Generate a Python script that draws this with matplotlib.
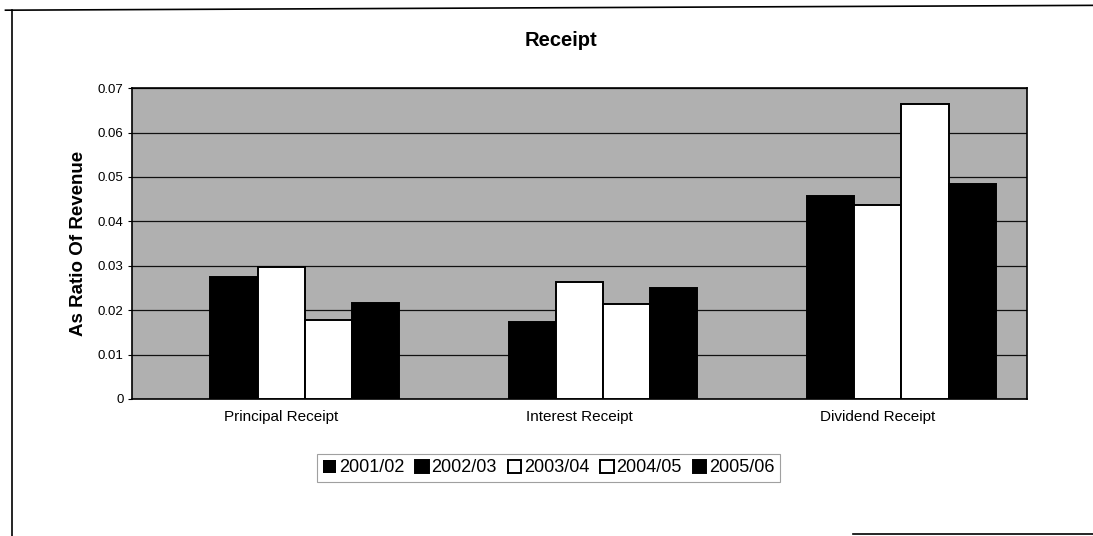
import matplotlib.pyplot as plt
import numpy as np
from matplotlib.lines import Line2D
from matplotlib.ticker import FuncFormatter

plt.rcParams['font.family'] = ['Liberation Sans', 'DejaVu Sans']

categories = ["Principal Receipt", "Interest Receipt", "Dividend Receipt"]
series = ["2001/02", "2002/03", "2003/04", "2004/05", "2005/06"]
v2001 = [0, 0, 0]
v2002 = [0.0275, 0.0173, 0.0456]
v2003 = [0.0297, 0.0264, 0.0437]
v2004 = [0.0178, 0.0214, 0.0664]
v2005 = [0.0216, 0.0249, 0.0483]
colors = ["black", "black", "white", "white", "black"]

values = [v2001, v2002, v2003, v2004, v2005]

fig = plt.figure(figsize=(10.93, 5.36), dpi=100)
ax = fig.add_axes([0.1208, 0.2556, 0.8188, 0.580])
ax.set_facecolor("#b0b0b0")

x = np.arange(len(categories))
w = 0.158
for i, (name, vals, c) in enumerate(zip(series, values, colors)):
    lw = [1.4 if v > 0 else 0 for v in vals]
    ax.bar(x + (i - 2) * w, vals, w, color=c, edgecolor="black",
           linewidth=lw, label=name, zorder=3)

ax.set_xlim(-0.5, 2.5)
ax.set_ylim(0, 0.07)
ax.set_yticks(np.arange(0, 0.071, 0.01))
ax.yaxis.set_major_formatter(FuncFormatter(lambda v, p: "0" if v == 0 else f"{v:.2f}"))
ax.grid(axis="y", color="#111111", linewidth=0.9, zorder=1)
ax.set_xticks(x)
ax.set_xticklabels(categories, fontsize=11)
ax.tick_params(axis="x", length=0, pad=8)
ax.tick_params(axis="y", labelsize=9.5, length=3, width=0.8, pad=3)
for s in ax.spines.values():
    s.set_linewidth(1.2)
    s.set_color("black")

ax.set_ylabel("As Ratio Of Revenue", fontsize=13.5, fontweight="bold", labelpad=8)
fig.text(0.513, 0.925, "Receipt", ha="center", va="center", fontsize=14.5, fontweight="bold")

leg = fig.legend(loc="center", bbox_to_anchor=(0.502, 0.127), ncol=5, fontsize=13,
                 frameon=True, fancybox=False, handlelength=0.75, handleheight=0.75,
                 handletextpad=0.15, columnspacing=0.6, borderpad=0.3)
leg.get_frame().set_edgecolor("#888888")
leg.get_frame().set_linewidth(0.8)

# outer chart border (partially visible in the scan)
fig.add_artist(Line2D([0.005, 1.0], [0.981, 0.990], color="black", lw=1.2))
fig.add_artist(Line2D([0.011, 0.011], [0.0, 0.981], color="black", lw=1.2))
fig.add_artist(Line2D([0.78, 1.0], [0.004, 0.004], color="black", lw=1.2))

fig.savefig("out.png", dpi=100)
